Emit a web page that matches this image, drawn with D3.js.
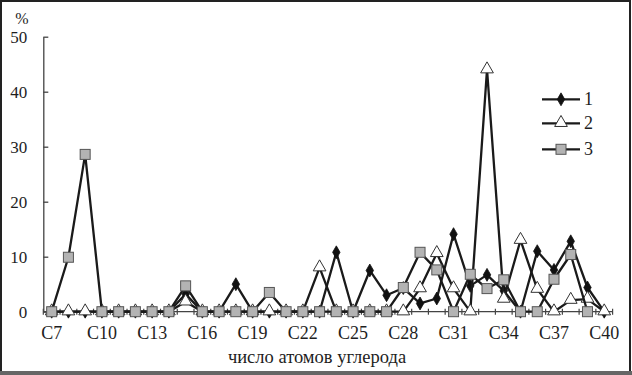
<!DOCTYPE html>
<html>
<head>
<meta charset="utf-8">
<script src="https://cdn.jsdelivr.net/npm/d3@7"></script>
<style>
  body { margin: 0; background: #fff; }
  svg text { font-family: "Liberation Serif", "DejaVu Serif", serif; fill: #1e1e1e; }
</style>
</head>
<body>
<div id="chart"></div>
<script>
// carbon numbers on the x axis
var categories = ["C7","C8","C9","C10","C11","C12","C13","C14","C15","C16","C17","C18","C19","C20",
    "C21","C22","C23","C24","C25","C26","C27","C28","C29","C30","C31","C32","C33","C34",
    "C35","C36","C37","C38","C39","C40"];

// percent values, one per category
var series1 = [0,0,0,0,0,0,0,0, 3.2,0,0,5.0,0,0,0,0,0,10.8,0,7.5,3.0,4.3,1.5,2.4,14.1,4.7,6.7,3.8,0,11.0,7.6,12.8,4.4,0];
var series2 = [0,0,0,0,0,0,0,0, 1.8,0,0,0,0,0,0,0,8.0,0,0,0,0,0,4.2,10.6,4.2,0,44.0,2.3,13.0,4.1,0,2.1,2.3,0];
var series3 = [0,9.9,28.6,0,0,0,0,0, 4.7,0,0,0,0,3.5,0,0,0,0,0,0,0,4.4,10.8,7.6,0,6.8,4.2,5.8,0,0,5.9,10.4,0,null];

var seriesNames = ["1", "2", "3"];
var yTicks = [0, 10, 20, 30, 40, 50];

var width = 632, height = 375;
var margin = { top: 36.7, left: 43.3, right: 632 - 612.6, bottom: 375 - 311.7 };
var serif = '"Liberation Serif", "DejaVu Serif", serif';

var svg = d3.select("#chart").append("svg")
    .attr("width", width)
    .attr("height", height);

// picture frame
svg.append("rect")
    .attr("x", 1).attr("y", 1)
    .attr("width", width - 3).attr("height", height - 4)
    .attr("fill", "none")
    .attr("stroke", "#222")
    .attr("stroke-width", 2);
svg.append("line")
    .attr("x1", 0).attr("x2", width)
    .attr("y1", height - 2).attr("y2", height - 2)
    .attr("stroke", "#666").attr("stroke-width", 4);

var x = d3.scaleBand()
    .domain(categories)
    .range([margin.left, width - margin.right]);

var y = d3.scaleLinear()
    .domain([0, 50])
    .range([height - margin.bottom, margin.top]);

var cx = function (c) { return x(c) + x.bandwidth() / 2; };

// y axis with inside ticks
var yAxis = d3.axisLeft(y)
    .tickValues(yTicks)
    .tickSizeInner(-5)
    .tickSizeOuter(0)
    .tickPadding(16);
var gy = svg.append("g")
    .attr("transform", "translate(" + margin.left + ",0)")
    .call(yAxis);
gy.select(".domain").attr("stroke", "#444").attr("stroke-width", 1.3);
gy.selectAll(".tick line").attr("stroke", "#444").attr("stroke-width", 1.3);
gy.selectAll("text").attr("font-family", serif).style("font-size", "17px").attr("fill", "#1e1e1e");

svg.append("text")
    .attr("x", 22).attr("y", 24)
    .attr("text-anchor", "middle")
    .attr("font-family", serif)
    .style("font-size", "16px")
    .text("%");

// x axis: line + crossing ticks at category boundaries
var y0 = y(0);
svg.append("line")
    .attr("x1", margin.left).attr("x2", width - margin.right)
    .attr("y1", y0).attr("y2", y0)
    .attr("stroke", "#444").attr("stroke-width", 1.3);

var bounds = categories.map(function (c) { return x(c); });
bounds.push(x(categories[categories.length - 1]) + x.bandwidth());
svg.selectAll(".xtick").data(bounds).enter().append("line")
    .attr("class", "xtick")
    .attr("x1", function (d) { return d; }).attr("x2", function (d) { return d; })
    .attr("y1", y0 - 3).attr("y2", y0 + 3)
    .attr("stroke", "#444").attr("stroke-width", 1.2);

svg.selectAll(".xlab").data(categories.filter(function (c, i) { return i % 3 === 0; }))
    .enter().append("text")
    .attr("class", "xlab")
    .attr("x", cx)
    .attr("y", 339)
    .attr("text-anchor", "middle")
    .attr("font-family", serif)
    .style("font-size", "18px")
    .text(function (d) { return d; });

svg.append("text")
    .attr("x", 317).attr("y", 363)
    .attr("text-anchor", "middle")
    .attr("font-family", serif)
    .style("font-size", "18.5px")
    .text("число атомов углерода");

// lines
var allSeries = [series1, series2, series3];
var line = d3.line()
    .defined(function (d) { return d != null; })
    .x(function (d, i) { return cx(categories[i]); })
    .y(function (d) { return y(d); });

function drawMarker(g, kind, px, py) {
    if (kind === 0) {
        g.append("path")
            .attr("d", d3.symbol().type(d3.symbolDiamond).size(48)())
            .attr("transform", "translate(" + px + "," + py + ")")
            .attr("fill", "#111").attr("stroke", "#111").attr("stroke-width", 0.8);
    } else if (kind === 1) {
        g.append("path")
            .attr("d", d3.symbol().type(d3.symbolTriangle).size(70)())
            .attr("transform", "translate(" + px + "," + (py - 0.5) + ")")
            .attr("fill", "#fff").attr("stroke", "#333").attr("stroke-width", 1);
    } else {
        g.append("rect")
            .attr("x", px - 5).attr("y", py - 5)
            .attr("width", 10).attr("height", 10)
            .attr("fill", "#b3b3b3").attr("stroke", "#555").attr("stroke-width", 1);
    }
}

allSeries.forEach(function (data, k) {
    var g = svg.append("g");
    g.append("path")
        .datum(data)
        .attr("d", line)
        .attr("fill", "none")
        .attr("stroke", "#1a1a1a")
        .attr("stroke-width", 2.3)
        .attr("stroke-linejoin", "round");
    data.forEach(function (d, i) {
        if (d == null) return;
        drawMarker(g, k, cx(categories[i]), y(d));
    });
});

// legend
var legendY = [99.3, 123.3, 149.3];
seriesNames.forEach(function (name, k) {
    var g = svg.append("g");
    g.append("line")
        .attr("x1", 542).attr("x2", 580)
        .attr("y1", legendY[k]).attr("y2", legendY[k])
        .attr("stroke", "#1a1a1a").attr("stroke-width", 2.3);
    drawMarker(g, k, 561, legendY[k]);
    g.append("text")
        .attr("x", 584).attr("y", legendY[k] + 6)
        .attr("font-family", serif)
        .style("font-size", "18px")
        .text(name);
});
</script>
</body>
</html>
